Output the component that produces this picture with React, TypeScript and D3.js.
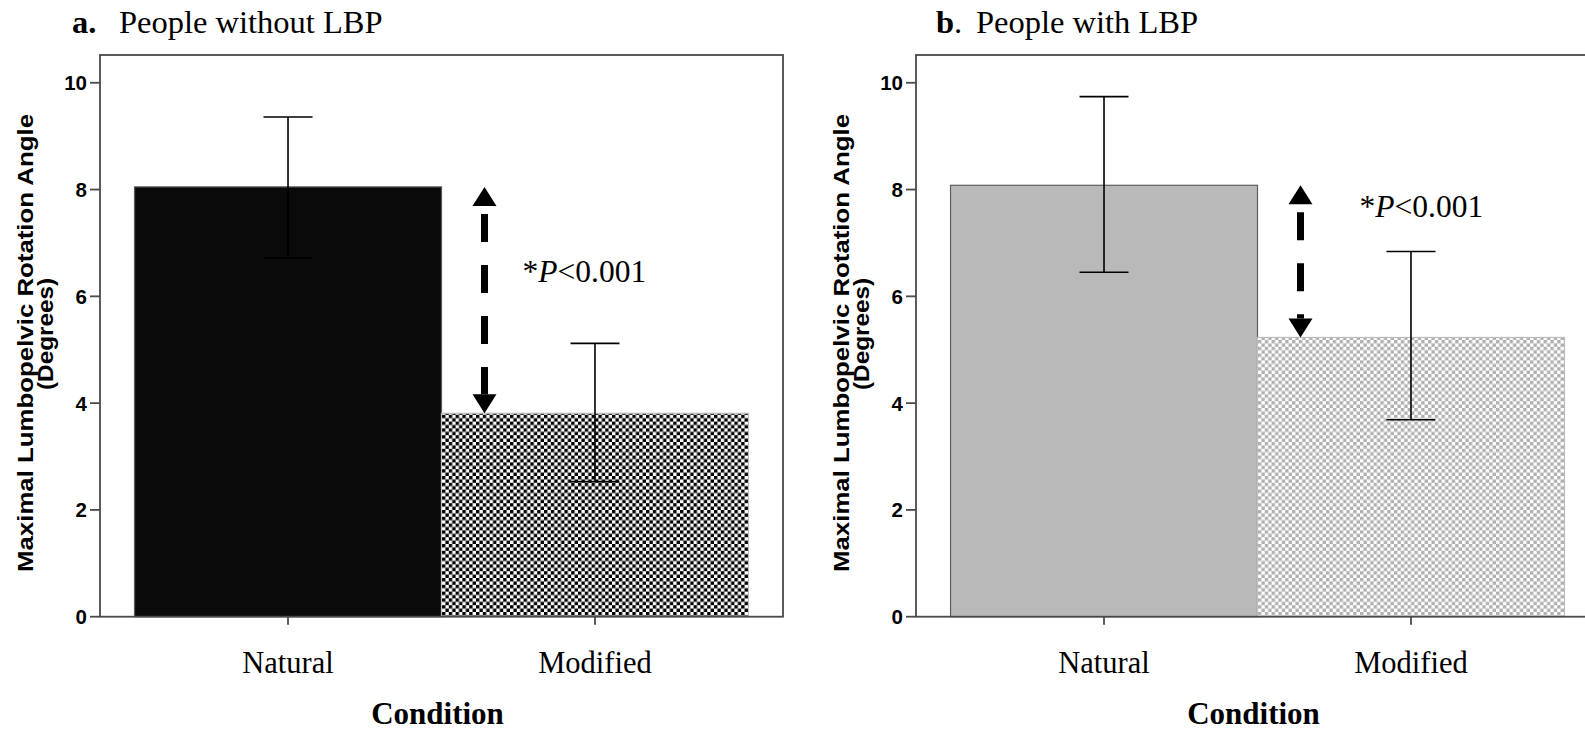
import React from "react";
import * as d3 from "d3";

const categories = ["Natural", "Modified"];
const yTicks = [0, 2, 4, 6, 8, 10];
const panelLetters = ["a.", "b"];
const panelLetterTails = ["", "."];
const panelTitles = ["People without LBP", "People with LBP"];
const meansWithout = [8.05, 3.81];
const upperWithout = [9.36, 5.12];
const lowerWithout = [6.72, 2.53];
const meansWith = [8.08, 5.23];
const upperWith = [9.74, 6.84];
const lowerWith = [6.45, 3.69];
const pStar = "*";
const pItalic = "P";
const pRest = "<0.001";
const xTitle = "Condition";
const yTitleLines = ["Maximal Lumbopelvic Rotation Angle", "(Degrees)"];

const W = 1585;
const H = 732;
const FRAME_W = 683;
const TOP = 55;
const ZERO = 616.7;
const CELL = 3.4;

const SERIF = "'Liberation Serif', 'Times New Roman', serif";
const SANS = "'Liberation Sans', Arial, sans-serif";

type PanelCfg = {
  left: number;
  letter: string;
  letterTail: string;
  title: string;
  letterX: number;
  titleX: number;
  means: number[];
  upper: number[];
  lower: number[];
  solid: string;
  solidStroke: string;
  checkerColor: string;
  checkerId: string;
  pX: number;
  pVal: number;
};

const panels: PanelCfg[] = [
  {
    left: 100,
    letter: panelLetters[0],
    letterTail: panelLetterTails[0],
    title: panelTitles[0],
    letterX: 72,
    titleX: 119,
    means: meansWithout,
    upper: upperWithout,
    lower: lowerWithout,
    solid: "#0a0a0a",
    solidStroke: "#5a5a5a",
    checkerColor: "#000000",
    checkerId: "checkBlack",
    pX: 38,
    pVal: 6.27,
  },
  {
    left: 916,
    letter: panelLetters[1],
    letterTail: panelLetterTails[1],
    title: panelTitles[1],
    letterX: 936,
    titleX: 976,
    means: meansWith,
    upper: upperWith,
    lower: lowerWith,
    solid: "#b9b9b9",
    solidStroke: "#5f5f5f",
    checkerColor: "#b0b0b0",
    checkerId: "checkGray",
    pX: 59,
    pVal: 7.48,
  },
];

const y = d3.scaleLinear().domain([0, 10.52]).range([ZERO, TOP]);

function Arrow({ x, y1, y2 }: { x: number; y1: number; y2: number }) {
  const headL = 19;
  const headW = 12;
  const a = y1 + headL;
  const b = y2 - headL;
  return (
    <g>
      <path d={`M${x},${y1} L${x - headW},${a} L${x + headW},${a} Z`} fill="#000" />
      <path d={`M${x},${y2} L${x - headW},${b} L${x + headW},${b} Z`} fill="#000" />
      <line
        x1={x}
        x2={x}
        y1={a + 8}
        y2={b}
        stroke="#000"
        strokeWidth={7}
        strokeDasharray="28 23"
      />
    </g>
  );
}

function Panel({ cfg }: { cfg: PanelCfg }) {
  const x = d3
    .scaleBand<string>()
    .domain(categories)
    .range([cfg.left, cfg.left + FRAME_W])
    .paddingInner(0)
    .paddingOuter(0.1125);
  const bw = x.bandwidth();
  const boundary = x(categories[1]) as number;
  const arrowX = boundary + 43;
  const capHalf = 24.5;
  return (
    <g>
      <text x={cfg.letterX} y={33} fontFamily={SERIF} fontSize={32.5} fontWeight="bold" fill="#000">
        {cfg.letter}
        <tspan fontWeight="normal">{cfg.letterTail}</tspan>
      </text>
      <text x={cfg.titleX} y={33} fontFamily={SERIF} fontSize={32.5} fill="#000">
        {cfg.title}
      </text>

      {categories.map((c, i) => {
        const bx = x(c) as number;
        const top = y(cfg.means[i]);
        return (
          <rect
            key={c}
            x={bx}
            y={top}
            width={bw}
            height={ZERO - top}
            fill={i === 0 ? cfg.solid : `url(#${cfg.checkerId})`}
            stroke={i === 0 ? cfg.solidStroke : "#bdbdbd"}
            strokeWidth={1.2}
          />
        );
      })}

      {categories.map((c, i) => {
        const cx = (x(c) as number) + bw / 2;
        return (
          <g key={c} stroke="#000" strokeWidth={1.6}>
            <line x1={cx} x2={cx} y1={y(cfg.upper[i])} y2={y(cfg.lower[i])} />
            <line x1={cx - capHalf} x2={cx + capHalf} y1={y(cfg.upper[i])} y2={y(cfg.upper[i])} />
            <line x1={cx - capHalf} x2={cx + capHalf} y1={y(cfg.lower[i])} y2={y(cfg.lower[i])} />
          </g>
        );
      })}

      <rect
        x={cfg.left}
        y={TOP}
        width={FRAME_W}
        height={ZERO - TOP}
        fill="none"
        stroke="#4a4a4a"
        strokeWidth={1.8}
      />

      {yTicks.map((t) => (
        <g key={t}>
          <line x1={cfg.left - 10} x2={cfg.left} y1={y(t)} y2={y(t)} stroke="#4a4a4a" strokeWidth={1.8} />
          <text
            x={cfg.left - 13}
            y={y(t)}
            dy="0.36em"
            textAnchor="end"
            fontFamily={SANS}
            fontSize={20.5}
            fontWeight="bold"
            fill="#000"
          >
            {t}
          </text>
        </g>
      ))}

      {categories.map((c) => {
        const cx = (x(c) as number) + bw / 2;
        return (
          <g key={c}>
            <line x1={cx} x2={cx} y1={ZERO} y2={ZERO + 8} stroke="#4a4a4a" strokeWidth={1.8} />
            <text x={cx} y={673} textAnchor="middle" fontFamily={SERIF} fontSize={30.5} fill="#000">
              {c}
            </text>
          </g>
        );
      })}

      <text
        x={cfg.left + FRAME_W / 2 - 4}
        y={724}
        textAnchor="middle"
        fontFamily={SERIF}
        fontSize={31}
        fontWeight="bold"
        fill="#000"
      >
        {xTitle}
      </text>

      <text
        transform={`translate(${cfg.left - 67},343) rotate(-90)`}
        textAnchor="middle"
        fontFamily={SANS}
        fontSize={22.5}
        fontWeight="bold"
        textLength={458}
        lengthAdjust="spacingAndGlyphs"
        fill="#000"
      >
        {yTitleLines[0]}
      </text>
      <text
        transform={`translate(${cfg.left - 47},334) rotate(-90)`}
        textAnchor="middle"
        fontFamily={SANS}
        fontSize={22.5}
        fontWeight="bold"
        textLength={112}
        lengthAdjust="spacingAndGlyphs"
        fill="#000"
      >
        {yTitleLines[1]}
      </text>

      <Arrow x={arrowX} y1={y(cfg.means[0])} y2={y(cfg.means[1])} />

      <text x={arrowX + cfg.pX} y={y(cfg.pVal)} fontFamily={SERIF} fontSize={31.5} fill="#000">
        {pStar}
        <tspan fontStyle="italic">{pItalic}</tspan>
        {pRest}
      </text>
    </g>
  );
}

export default function App() {
  return (
    <svg
      width={W}
      height={H}
      viewBox={`0 0 ${W} ${H}`}
      style={{ position: "absolute", left: 0, top: 0, background: "#fff" }}
    >
      <defs>
        {panels.map((p) => (
          <pattern
            key={p.checkerId}
            id={p.checkerId}
            patternUnits="userSpaceOnUse"
            width={CELL * 2}
            height={CELL * 2}
          >
            <rect x={0} y={0} width={CELL * 2} height={CELL * 2} fill="#fff" />
            <rect x={0} y={0} width={CELL} height={CELL} fill={p.checkerColor} />
            <rect x={CELL} y={CELL} width={CELL} height={CELL} fill={p.checkerColor} />
          </pattern>
        ))}
      </defs>
      <rect x={0} y={0} width={W} height={H} fill="#fff" />
      {panels.map((p) => (
        <Panel key={p.checkerId} cfg={p} />
      ))}
    </svg>
  );
}
